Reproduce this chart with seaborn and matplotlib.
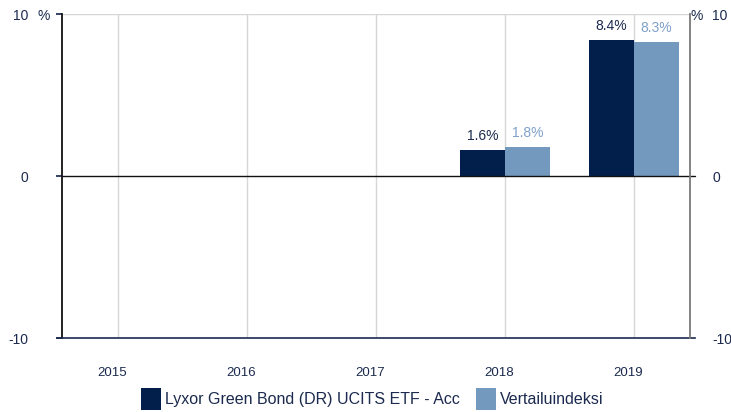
import numpy as np
import pandas as pd
import matplotlib
matplotlib.use("Agg")
import matplotlib.pyplot as plt
import matplotlib.transforms as mtransforms
from matplotlib.patches import Patch
import seaborn as sns

years = ["2015", "2016", "2017", "2018", "2019"]
fund_values = [np.nan, np.nan, np.nan, 1.6, 8.4]
index_values = [np.nan, np.nan, np.nan, 1.8, 8.3]
series_names = ["Lyxor Green Bond (DR) UCITS ETF - Acc", "Vertailuindeksi"]
y_ticks = [-10, 0, 10]

dark = "#021f4b"
light = "#7399be"
light_text = "#7fa0c8"
navy_text = "#1b2a4e"

sns.set_theme(style="white")
plt.rcParams["font.family"] = ["Liberation Sans", "DejaVu Sans"]

df = pd.DataFrame({
    "year": years * 2,
    "value": fund_values + index_values,
    "series": [series_names[0]] * len(years) + [series_names[1]] * len(years),
})

fig = plt.figure(figsize=(7.31, 4.12), dpi=100)
ax = fig.add_axes([62 / 731, 1 - 338 / 412, 628 / 731, 324 / 412])

sns.barplot(data=df, x="year", y="value", hue="series", order=years,
            hue_order=series_names, palette=[dark, light], width=0.7,
            dodge=True, saturation=1, errorbar=None, legend=False, ax=ax,
            zorder=3, linewidth=0)

ax.set_xlim(-0.435, len(years) - 1 + 0.435)
ax.set_ylim(-10, 10)
ax.set_xlabel("")
ax.set_ylabel("")

# gridlines
for i in range(len(years)):
    ax.axvline(i, color="#d6d6d6", lw=1, zorder=1)
ax.axhline(10, color="#d6d6d6", lw=1, zorder=1)
ax.axhline(0, color="#111111", lw=1, zorder=4, xmax=1.008, clip_on=False)

# spines
for s in ["top", "right"]:
    ax.spines[s].set_visible(False)
ax.spines["left"].set_color("#111111")
ax.spines["left"].set_linewidth(1.3)
ax.spines["bottom"].set_color("#1b2a4e")
ax.spines["bottom"].set_linewidth(1.2)
ax.spines["bottom"].set_bounds(-0.435 - 0.035, len(years) - 1 + 0.435 + 0.04)

ax.set_yticks(y_ticks)
ax.set_yticklabels([str(t) for t in y_ticks])
ax.tick_params(axis="y", length=4, color=navy_text, pad=20, labelsize=10,
               labelcolor=navy_text, left=True)
ax.tick_params(axis="x", length=0, pad=21, labelsize=9.5, labelcolor=navy_text)
offset = mtransforms.ScaledTranslation(-6 / 100, 0, fig.dpi_scale_trans)
for lab in ax.get_xticklabels():
    lab.set_transform(lab.get_transform() + offset)

# right axis
ax2 = ax.twinx()
ax2.set_ylim(-10, 10)
ax2.set_yticks(y_ticks)
ax2.set_yticklabels([str(t) for t in y_ticks])
for s in ["top", "left", "bottom"]:
    ax2.spines[s].set_visible(False)
ax2.spines["right"].set_color("#7a7a7a")
ax2.spines["right"].set_linewidth(1.3)
ax2.tick_params(axis="y", length=0, pad=16, labelsize=10, labelcolor=navy_text)

fig.text(44 / 731, 1 - 16 / 412, "%", fontsize=10, color=navy_text,
         ha="center", va="center")
fig.text(697 / 731, 1 - 16 / 412, "%", fontsize=10, color=navy_text,
         ha="center", va="center")

# value labels
colors_lbl = [navy_text, light_text]
for cont, c in zip(ax.containers, colors_lbl):
    labels = ["" if np.isnan(v) else f"{v:.1f}%" for v in cont.datavalues]
    ax.bar_label(cont, labels=labels, padding=5, fontsize=10, color=c)

handles = [Patch(facecolor=dark, edgecolor="none"),
           Patch(facecolor=light, edgecolor="none")]
fig.legend(handles, series_names, loc="center", bbox_to_anchor=(372 / 731, 1 - 399 / 412),
           ncol=2, frameon=False, fontsize=11.5, handlelength=1.25, handleheight=1.7,
           handletextpad=0.25, columnspacing=1.0, labelcolor=navy_text)

fig.savefig("out.png", dpi=100)
